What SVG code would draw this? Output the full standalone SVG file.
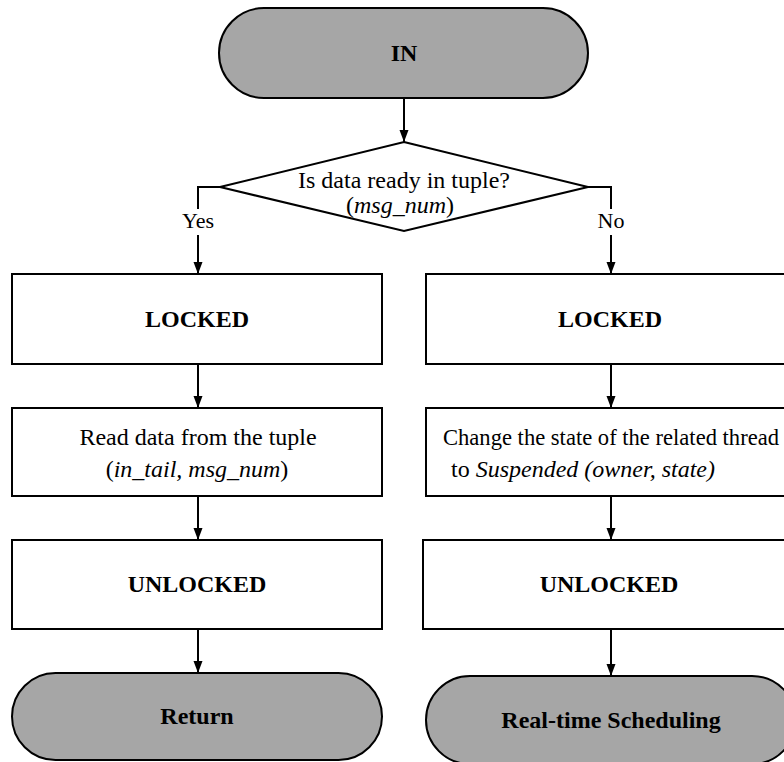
<svg xmlns="http://www.w3.org/2000/svg" width="784" height="762" viewBox="0 0 784 762">
<style>
.box{fill:#fff;stroke:#000;stroke-width:2}
.term{fill:#a6a6a6;stroke:#000;stroke-width:2}
.t{font-family:"Liberation Serif","Times New Roman",serif;font-size:24px;fill:#000;text-anchor:middle}
.b{font-weight:bold}
.i{font-style:italic}
.c{fill:none;stroke:#000;stroke-width:2}
</style>
<defs>
<marker id="ah" markerUnits="userSpaceOnUse" markerWidth="12" markerHeight="16" refX="16" refY="6" viewBox="0 0 16 12" orient="auto">
<path d="M0,0 L16,6 L0,12 Z" fill="#000"/>
</marker>
</defs>
<rect width="784" height="762" fill="#fff"/>
<g id="connectors">
<path class="c" d="M404,98 V142" marker-end="url(#ah)"/>
<path class="c" d="M220,187 H198 V209"/>
<path class="c" d="M198,235 V274" marker-end="url(#ah)"/>
<path class="c" d="M588,187 H611 V209"/>
<path class="c" d="M611,235 V274" marker-end="url(#ah)"/>
<path class="c" d="M198,364 V408" marker-end="url(#ah)"/>
<path class="c" d="M198,496 V540" marker-end="url(#ah)"/>
<path class="c" d="M198,629 V673" marker-end="url(#ah)"/>
<path class="c" d="M611,364 V408" marker-end="url(#ah)"/>
<path class="c" d="M611,496 V540" marker-end="url(#ah)"/>
<path class="c" d="M611,629 V676" marker-end="url(#ah)"/>
<text class="t" x="198" y="228" style="font-size:22px">Yes</text>
<text class="t" x="611" y="228" style="font-size:22px">No</text>
</g>
<g id="in">
<rect class="term" x="219" y="8" width="369" height="90" rx="45" ry="45"/>
<text class="t b" x="404" y="61">IN</text>
</g>
<g id="decision">
<polygon class="box" points="404,142 588,187 404,231 220,187"/>
<text class="t" x="404" y="188">Is data ready in tuple?</text>
<text class="t" x="400" y="213">(<tspan class="i">msg_num</tspan>)</text>
</g>
<g id="locked-left">
<rect class="box" x="12" y="274" width="370" height="90"/>
<text class="t b" x="197" y="327">LOCKED</text>
</g>
<g id="read">
<rect class="box" x="12" y="408" width="370" height="88"/>
<text class="t" x="198" y="445">Read data from the tuple</text>
<text class="t" x="197" y="477">(<tspan class="i">in_tail, msg_num</tspan>)</text>
</g>
<g id="unlocked-left">
<rect class="box" x="12" y="540" width="370" height="89"/>
<text class="t b" x="197" y="592">UNLOCKED</text>
</g>
<g id="return">
<rect class="term" x="12" y="673" width="370" height="87" rx="43.5" ry="43.5"/>
<text class="t b" x="197" y="724">Return</text>
</g>
<g id="locked-right">
<rect class="box" x="426" y="274" width="370" height="90"/>
<text class="t b" x="610" y="327">LOCKED</text>
</g>
<g id="change">
<rect class="box" x="426" y="408" width="370" height="88"/>
<text class="t" x="443" y="445" style="text-anchor:start" textLength="336" lengthAdjust="spacingAndGlyphs">Change the state of the related thread</text>
<text class="t" x="451" y="477" style="text-anchor:start">to <tspan class="i">Suspended (owner, state)</tspan></text>
</g>
<g id="unlocked-right">
<rect class="box" x="423" y="540" width="373" height="89"/>
<text class="t b" x="609" y="592">UNLOCKED</text>
</g>
<g id="realtime">
<rect class="term" x="426" y="676" width="370" height="88" rx="44" ry="44"/>
<text class="t b" x="611" y="728">Real-time Scheduling</text>
</g>
</svg>
